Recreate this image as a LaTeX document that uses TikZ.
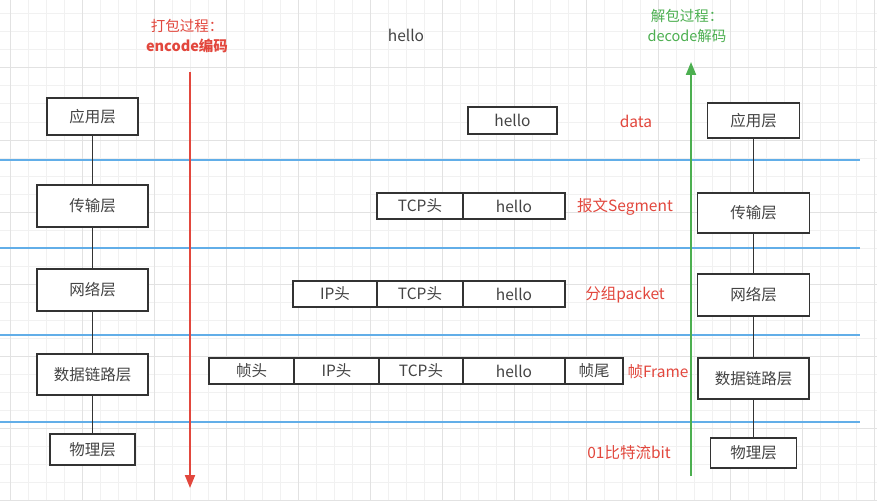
\documentclass[tikz,border=0pt]{standalone}
\usepackage{fontspec}
\newfontfamily\cjk{Noto Sans CJK SC}
\usetikzlibrary{positioning}
\usetikzlibrary{arrows.meta}

\definecolor{gridminor}{HTML}{F1F1F1}
\definecolor{gridmajor}{HTML}{E2E2E2}
\definecolor{layerblue}{HTML}{62AEE8}
\definecolor{encred}{HTML}{E2473D}
\definecolor{decgreen}{HTML}{4CAF50}
\definecolor{boxline}{HTML}{333333}
\definecolor{boxtext}{HTML}{444444}

\begin{document}
\begin{tikzpicture}[x=1pt,y=-1pt,
    layer/.style={draw=boxline,line width=1.5pt,fill=white,text=boxtext,
      font=\cjk\fontsize{15.5}{18}\selectfont,inner sep=0pt,outer sep=0pt},
    cell/.style={draw=boxline,line width=1.5pt,fill=white,text=boxtext,
      font=\cjk\fontsize{15.5}{18}\selectfont,inner sep=0pt,outer sep=0pt,
      minimum height=26pt},
    unit/.style={text=encred,font=\cjk\fontsize{15.5}{18}\selectfont,inner sep=0pt},
    stack/.style={boxline,line width=1.6pt},
    layerline/.style={layerblue,line width=1.8pt},
    flow/.style={line width=2pt,-{Triangle[width=10pt,length=13pt]}}]

  % background and grid
  \useasboundingbox (0,0) rectangle (877,500);
  \fill[white] (0,0) rectangle (877,500);
  \foreach \x in {10,28,...,877} \draw[gridminor,line width=1pt] (\x,0) -- (\x,500);
  \foreach \y in {14,32,...,500} \draw[gridminor,line width=1pt] (0,\y) -- (877,\y);
  \foreach \x in {10,82,...,877} \draw[gridmajor,line width=1pt] (\x,0) -- (\x,500);
  \foreach \y in {68,140,...,500} \draw[gridmajor,line width=1pt] (0,\y) -- (877,\y);

  % layer borders
  \foreach \y in {160,248,335,422} \draw[layerline] (0,\y) -- (860,\y);

  % sender stack
  \node[layer,minimum width=91pt,minimum height=37pt] (lapp) at (92.5,116.5) {应用层};
  \node[layer,minimum width=111pt,minimum height=42pt] (ltrans) at (92.5,206) {传输层};
  \node[layer,minimum width=111pt,minimum height=42pt] (lnet) at (92.5,290) {网络层};
  \node[layer,minimum width=111pt,minimum height=41pt] (llink) at (92.5,374.5) {数据链路层};
  \node[layer,minimum width=85pt,minimum height=31pt] (lphy) at (92.5,449.5) {物理层};

  % receiver stack
  \node[layer,minimum width=92pt,minimum height=35pt] (rapp) at (753.5,120.5) {应用层};
  \node[layer,minimum width=112pt,minimum height=40pt] (rtrans) at (753.5,213) {传输层};
  \node[layer,minimum width=112pt,minimum height=42pt] (rnet) at (753.5,295) {网络层};
  \node[layer,minimum width=111pt,minimum height=41pt] (rlink) at (753.5,378.5) {数据链路层};
  \node[layer,minimum width=86pt,minimum height=30pt] (rphy) at (753.5,453) {物理层};

  \draw[stack] (lapp) -- (ltrans) -- (lnet) -- (llink) -- (lphy);
  \draw[stack] (rapp) -- (rtrans) -- (rnet) -- (rlink) -- (rphy);

  % encode / decode
  \coordinate (encstart) at (190,72);
  \coordinate (encend) at (190,488);
  \coordinate (decstart) at (691,476);
  \coordinate (decend) at (691,62);
  \draw[flow,encred] (encstart) -- (encend);
  \draw[flow,decgreen] (decstart) -- (decend);
  \node[text=encred,align=center,inner sep=0pt,
    font=\cjk\fontsize{14.5}{20}\selectfont] (enctitle) at (187,36)
    {打包过程：\\\bfseries encode编码};
  \node[text=decgreen,align=center,inner sep=0pt,
    font=\cjk\fontsize{14.5}{20}\selectfont] (dectitle) at (687,26)
    {解包过程：\\decode解码};
  \node[text=boxtext,font=\cjk\fontsize{15.5}{18}\selectfont] (msg) at (406,35) {hello};

  % data
  \node[cell,minimum width=89pt,minimum height=27pt] (dhello) at (512.5,120.5) {hello};
  \node[unit] (ldata) at (636,121) {data};

  % segment
  \node[cell,minimum width=86pt] (stcp) at (420,206) {TCP头};
  \node[cell,minimum width=102pt,right=0pt of stcp] (shello) {hello};
  \node[unit] (lseg) at (625,207) {报文Segment};

  % packet
  \node[cell,minimum width=84pt] (pip) at (335,294) {IP头};
  \node[cell,minimum width=86pt,right=0pt of pip] (ptcp) {TCP头};
  \node[cell,minimum width=102pt,right=0pt of ptcp] (phello) {hello};
  \node[unit] (lpkt) at (625,295) {分组packet};

  % frame
  \node[cell,minimum width=85pt] (fhead) at (251.5,371) {帧头};
  \node[cell,minimum width=85pt,right=0pt of fhead] (fip) {IP头};
  \node[cell,minimum width=84pt,right=0pt of fip] (ftcp) {TCP头};
  \node[cell,minimum width=102pt,right=0pt of ftcp] (fhello) {hello};
  \node[cell,minimum width=58pt,right=0pt of fhello] (ftail) {帧尾};
  \node[unit] (lfrm) at (658,372) {帧Frame};

  % bits
  \node[unit] (lbit) at (629,453) {01比特流bit};

\end{tikzpicture}
\end{document}
